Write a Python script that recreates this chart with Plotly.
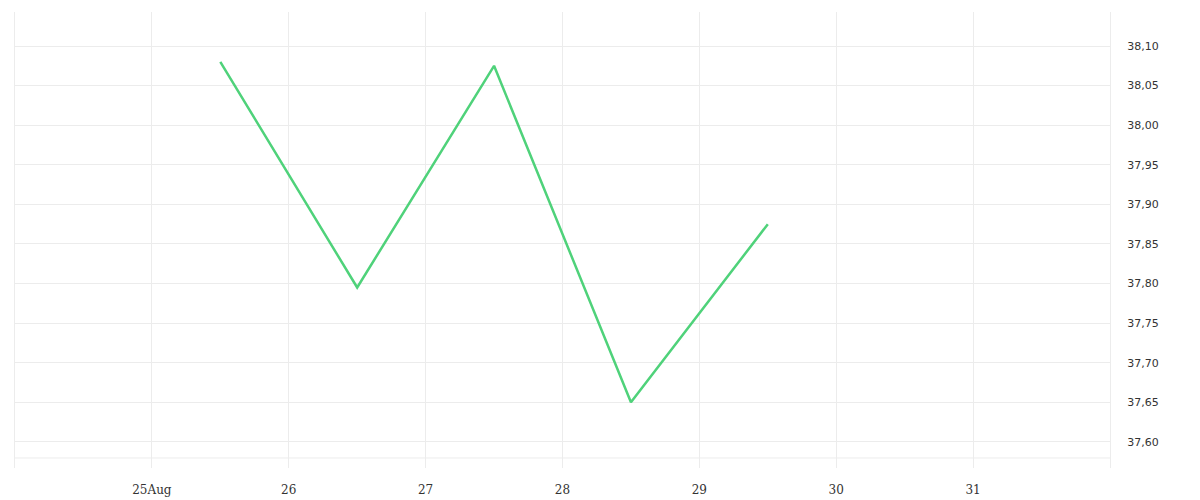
import plotly.graph_objects as go

# data
dates = ["2023-08-25 12:00", "2023-08-26 12:00", "2023-08-27 12:00",
         "2023-08-28 12:00", "2023-08-29 12:00"]
prices = [38.08, 37.795, 38.075, 37.65, 37.875]

x_tick_vals = ["2023-08-24", "2023-08-25", "2023-08-26", "2023-08-27", "2023-08-28",
               "2023-08-29", "2023-08-30", "2023-08-31", "2023-09-01"]
x_tick_text = ["", "25Aug", "26", "27", "28", "29", "30", "31", ""]
y_tick_vals = [37.60, 37.65, 37.70, 37.75, 37.80, 37.85, 37.90, 37.95, 38.00, 38.05, 38.10]

grid = "#ececec"

fig = go.Figure()
fig.add_trace(go.Scatter(
    x=dates,
    y=prices,
    mode="lines",
    line=dict(color="#4fd27a", width=2.5),
    showlegend=False,
    hoverinfo="x+y",
))

# faint extra rule near the bottom of the plot
fig.add_shape(type="line", xref="paper", yref="paper",
              x0=0, x1=1, y0=0.022, y1=0.022,
              line=dict(color=grid, width=1), layer="below")

# the page body adds 8px, so margins are shifted to compensate
fig.update_layout(
    width=1200,
    height=500,
    margin=dict(l=7, r=98, t=4, b=40),
    plot_bgcolor="white",
    paper_bgcolor="white",
    separators=",.",
    xaxis=dict(
        range=["2023-08-24", "2023-09-01"],
        tickmode="array",
        tickvals=x_tick_vals,
        ticktext=x_tick_text,
        showgrid=True,
        gridcolor=grid,
        gridwidth=1,
        zeroline=False,
        ticks="outside",
        ticklen=11,
        tickcolor="rgba(0,0,0,0)",
        tickfont=dict(family="DejaVu Serif", size=12, color="#333"),
    ),
    yaxis=dict(
        side="right",
        range=[37.567, 38.143],
        tickmode="array",
        tickvals=y_tick_vals,
        tickformat=".2f",
        showgrid=True,
        gridcolor=grid,
        gridwidth=1,
        zeroline=False,
        showline=True,
        mirror=True,
        linecolor=grid,
        linewidth=1,
        ticks="outside",
        ticklen=14,
        tickcolor="rgba(0,0,0,0)",
        tickfont=dict(family="DejaVu Sans", size=11, color="#333"),
    ),
)

fig.write_html("out.html")
